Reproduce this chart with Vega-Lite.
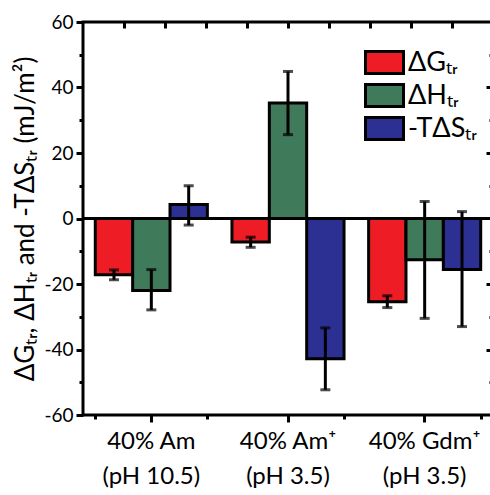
{
  "$schema": "https://vega.github.io/schema/vega-lite/v6.json",
  "autosize": "none",
  "padding": {"left": 83, "top": 22, "right": 0, "bottom": 80},
  "width": 410,
  "height": 393,
  "config": {
    "font": "Lato",
    "view": {"stroke": "black", "strokeWidth": 3},
    "axis": {"grid": false}
  },
  "data": {
    "values": [
      {"group": "40% Am|(pH 10.5)", "series": "ΔGₜᵣ", "value": -17.2, "lo": -18.7, "hi": -15.7},
      {"group": "40% Am|(pH 10.5)", "series": "ΔHₜᵣ", "value": -22.0, "lo": -27.9, "hi": -15.6},
      {"group": "40% Am|(pH 10.5)", "series": "-TΔSₜᵣ", "value": 4.3, "lo": -2.0, "hi": 10.0},
      {"group": "40% Am⁺|(pH 3.5)", "series": "ΔGₜᵣ", "value": -7.2, "lo": -8.8, "hi": -5.7},
      {"group": "40% Am⁺|(pH 3.5)", "series": "ΔHₜᵣ", "value": 35.3, "lo": 25.6, "hi": 44.9},
      {"group": "40% Am⁺|(pH 3.5)", "series": "-TΔSₜᵣ", "value": -42.8, "lo": -52.3, "hi": -33.4},
      {"group": "40% Gdm⁺|(pH 3.5)", "series": "ΔGₜᵣ", "value": -25.4, "lo": -27.2, "hi": -23.6},
      {"group": "40% Gdm⁺|(pH 3.5)", "series": "ΔHₜᵣ", "value": -12.6, "lo": -30.5, "hi": 5.2},
      {"group": "40% Gdm⁺|(pH 3.5)", "series": "-TΔSₜᵣ", "value": -15.6, "lo": -33.0, "hi": 2.1}
    ]
  },
  "layer": [
    {
      "mark": {"type": "point", "opacity": 0},
      "encoding": {
        "x": {
          "field": "hi", "type": "quantitative",
          "scale": {"domain": [0, 10], "nice": false, "zero": false},
          "axis": {
            "orient": "top", "values": [1, 2, 3, 4, 5, 6, 7, 8, 9], "labels": false, "domain": false, "title": null,
            "tickWidth": 3, "tickColor": "black", "offset": -6, "tickSize": 6
          }
        },
        "y": {"field": "value", "type": "quantitative", "axis": null}
      }
    },
    {
      "encoding": {
        "x": {"field": "group", "type": "nominal", "sort": null, "scale": {"paddingInner": 0.18, "paddingOuter": 0.09}},
        "xOffset": {"field": "series", "type": "nominal", "sort": null, "scale": {"paddingInner": 0, "paddingOuter": 0}}
      },
      "layer": [
        {
          "mark": {"type": "bar", "stroke": "black", "strokeWidth": 3},
          "encoding": {
            "x": {
              "field": "group", "type": "nominal", "sort": null,
              "axis": {
                "orient": "bottom", "title": null, "labelAngle": 0,
                "labelExpr": "split(datum.label, '|')",
                "labelFontSize": 24, "labelLineHeight": 35, "labelColor": "black",
                "labelPadding": 7, "tickSize": 7, "tickWidth": 3, "tickColor": "black",
                "domain": false
              }
            },
            "y": {
              "field": "value", "type": "quantitative",
              "scale": {"domain": [-60, 60], "nice": false},
              "axis": {
                "orient": "left",
                "values": [-60, -50, -40, -30, -20, -10, 0, 10, 20, 30, 40, 50, 60],
                "labelExpr": "datum.value % 20 === 0 ? replace(datum.label, '−', '-') : ''",
                "tickSize": {"condition": {"test": "datum.value % 20 === 0", "value": 7}, "value": 4},
                "tickWidth": 3, "tickColor": "black",
                "labelFontSize": 19, "labelColor": "black", "labelPadding": 3,
                "domain": false,
                "title": "ΔGₜᵣ, ΔHₜᵣ and -TΔSₜᵣ (mJ/m²)",
                "titleFontSize": 26, "titleFontWeight": "normal", "titleColor": "black", "titlePadding": 5
              }
            },
            "fill": {
              "field": "series", "type": "nominal", "sort": null,
              "scale": {"domain": ["ΔGₜᵣ", "ΔHₜᵣ", "-TΔSₜᵣ"], "range": ["#ee1d25", "#3f7b5b", "#2c3092"]},
              "legend": {
                "title": null, "orient": "none", "legendX": 288, "legendY": 27,
                "symbolType": "M-1.9,-1.1H1.9V1.1H-1.9Z", "symbolSize": 400,
                "symbolStrokeWidth": 3, "symbolStrokeColor": "black",
                "labelFontSize": 27, "labelColor": "black", "labelOffset": 10,
                "rowPadding": -2
              }
            }
          }
        },
        {
          "mark": {"type": "rule", "strokeWidth": 3, "color": "black"},
          "encoding": {"x": null, "xOffset": null, "y": {"datum": 0, "type": "quantitative", "axis": null}}
        },
        {
          "mark": {"type": "rule", "strokeWidth": 3, "color": "black"},
          "encoding": {
            "x": {
              "field": "group", "type": "nominal", "sort": null,
              "axis": {"orient": "bottom", "tickBand": "extent", "labels": false, "domain": false, "title": null, "tickSize": 4, "tickWidth": 3, "tickColor": "black"}
            },
            "y": {
              "field": "lo", "type": "quantitative",
              "axis": {
                "orient": "right", "values": [-50, -40, -30, -20, -10, 10, 20, 30, 40, 50], "labels": false, "domain": false, "title": null,
                "tickWidth": 3, "tickColor": "black",
                "tickSize": {"condition": {"test": "datum.value % 20 === 0", "value": -7}, "value": -4}
              }
            },
            "y2": {"field": "hi"}
          }
        },
        {
          "mark": {"type": "tick", "orient": "horizontal", "size": 10, "thickness": 3, "color": "black"},
          "encoding": {
            "x": {"field": "group", "type": "nominal", "sort": null, "axis": null},
            "y": {"field": "lo", "type": "quantitative", "axis": null}
          }
        },
        {
          "mark": {"type": "tick", "orient": "horizontal", "size": 10, "thickness": 3, "color": "black"},
          "encoding": {
            "x": {"field": "group", "type": "nominal", "sort": null, "axis": null},
            "y": {"field": "hi", "type": "quantitative", "axis": null}
          }
        }
      ],
      "resolve": {"axis": {"x": "independent", "y": "independent"}}
    }
  ],
  "resolve": {"scale": {"x": "independent"}, "axis": {"x": "independent", "y": "independent"}}
}
